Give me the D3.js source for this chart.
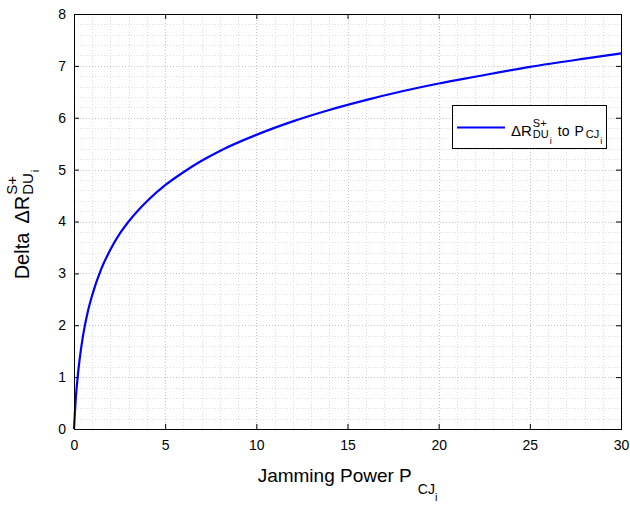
<!DOCTYPE html>
<html>
<head>
<meta charset="utf-8">
<script src="https://cdn.jsdelivr.net/npm/d3@7"></script>
<style>
  body { margin: 0; background: #fff; }
  text { font-family: "Liberation Sans", Arial, Helvetica, sans-serif; fill: #000; }
</style>
</head>
<body>
<svg id="chart" width="630" height="505"></svg>
<script>
// values
var powerVals = [0, 0.05, 0.1, 0.2, 0.3, 0.5, 0.75, 1, 1.5, 2, 2.5, 3, 4, 5, 6, 7, 8, 10, 12, 14, 16, 18, 20, 22, 25, 28, 30];
var deltaVals = [0, 0.32, 0.6, 1.0, 1.32, 1.81, 2.25, 2.58, 3.09, 3.46, 3.76, 4.0, 4.39, 4.70, 4.95, 5.17, 5.36, 5.67, 5.93, 6.15, 6.34, 6.51, 6.66, 6.79, 6.98, 7.14, 7.24];
var xTicks = [0, 5, 10, 15, 20, 25, 30];
var yTicks = [0, 1, 2, 3, 4, 5, 6, 7, 8];

var svg = d3.select("#chart");
var pLeft = 74, pRight = 621, pTop = 14, pBottom = 429;

var x = d3.scaleLinear().domain([0, 30]).range([pLeft, pRight]);
var y = d3.scaleLinear().domain([0, 8]).range([pBottom, pTop]);

//grid: minor first, then major
var grid = svg.append("g");
var xMinor = d3.range(1, 30).filter(function(d) { return d % 5 !== 0; });
var yMinor = d3.range(1, 40).map(function(d) { return d * 0.2; }).filter(function(d) { return Math.abs(d - Math.round(d)) > 0.01; });

function vLines(vals, color) {
  grid.selectAll(null).data(vals).enter().append("line")
    .attr("x1", function(d) { return Math.round(x(d)) + 0.5; })
    .attr("x2", function(d) { return Math.round(x(d)) + 0.5; })
    .attr("y1", pTop).attr("y2", pBottom)
    .attr("stroke", color).attr("stroke-dasharray", "1,2");
}
function hLines(vals, color) {
  grid.selectAll(null).data(vals).enter().append("line")
    .attr("y1", function(d) { return Math.round(y(d)) + 0.5; })
    .attr("y2", function(d) { return Math.round(y(d)) + 0.5; })
    .attr("x1", pLeft).attr("x2", pRight)
    .attr("stroke", color).attr("stroke-dasharray", "1,2");
}
vLines(xMinor, "#dedede");
hLines(yMinor, "#dedede");
vLines(xTicks.slice(1, -1), "#c4c4c4");
hLines(yTicks.slice(1, -1), "#c4c4c4");

//axes with inward ticks on all four sides
var tl = 5;
var axB = svg.append("g").attr("transform", "translate(0," + pBottom + ")")
  .call(d3.axisBottom(x).tickValues(xTicks).tickSizeInner(-tl).tickSizeOuter(0).tickPadding(11));
var axT = svg.append("g").attr("transform", "translate(0," + pTop + ")")
  .call(d3.axisTop(x).tickValues(xTicks).tickSizeInner(-tl).tickSizeOuter(0).tickFormat(""));
var axL = svg.append("g").attr("transform", "translate(" + pLeft + ",0)")
  .call(d3.axisLeft(y).tickValues(yTicks).tickSizeInner(-tl).tickSizeOuter(0).tickPadding(8));
var axR = svg.append("g").attr("transform", "translate(" + pRight + ",0)")
  .call(d3.axisRight(y).tickValues(yTicks).tickSizeInner(-tl).tickSizeOuter(0).tickFormat(""));
[axB, axT, axL, axR].forEach(function(a) {
  a.select(".domain").remove();
  a.selectAll("line").attr("stroke", "#000");
  a.selectAll("text").attr("font-size", 14).attr("font-family", null);
});

//the curve
var pts = powerVals.map(function(p, i) { return [p, deltaVals[i]]; });
var line = d3.line().x(function(d) { return x(d[0]); }).y(function(d) { return y(d[1]); }).curve(d3.curveMonotoneX);
svg.append("path").datum(pts).attr("d", line)
  .attr("fill", "none").attr("stroke", "#0000ff").attr("stroke-width", 2.2);

svg.append("rect").attr("x", pLeft + 0.5).attr("y", pTop + 0.5)
  .attr("width", pRight - pLeft).attr("height", pBottom - pTop)
  .attr("fill", "none").attr("stroke", "#000");

//text with sub/superscripts, built from pieces
function rich(g, parts) {
  var cx = 0, prevStart = 0;
  parts.forEach(function(p) {
    var start = p.stack ? prevStart : cx + (p.dx || 0);
    var t = g.append("text").attr("x", start).attr("y", p.dy || 0)
      .attr("font-size", p.s).style("white-space", "pre").text(p.t);
    var w = t.node().getComputedTextLength();
    prevStart = start;
    cx = Math.max(cx, start + w);
  });
  return cx;
}

//x label
var xl = svg.append("g");
var xw = rich(xl, [
  {t: "Jamming Power P", s: 19},
  {t: "CJ", s: 14, dy: 12, dx: 6},
  {t: "i", s: 11, dy: 19}
]);
xl.attr("transform", "translate(" + ((pLeft + pRight) / 2 - xw / 2) + ",482)");

//y label
var yl = svg.append("g");
var yw = rich(yl, [
  {t: "Delta", s: 20},
  {t: "\u0394R", s: 20, dx: 9},
  {t: "S+", s: 15, dy: -12, dx: 1},
  {t: "DU", s: 15, stack: true, dy: 4},
  {t: "i", s: 11, dy: 10, dx: 1}
]);
yl.attr("transform", "translate(29," + ((pTop + pBottom) / 2 + yw / 2 + 3) + ") rotate(-90)");

//legend
var lg = svg.append("g");
lg.append("rect").attr("x", 452.5).attr("y", 105.5).attr("width", 154).attr("height", 43)
  .attr("fill", "#fff").attr("stroke", "#000");
lg.append("line").attr("x1", 457).attr("x2", 505).attr("y1", 127.5).attr("y2", 127.5)
  .attr("stroke", "#0000ff").attr("stroke-width", 2.2);
var lt = lg.append("g").attr("transform", "translate(511,136)");
rich(lt, [
  {t: "\u0394R", s: 15},
  {t: "S+", s: 11, dy: -9, dx: 1},
  {t: "DU", s: 11, stack: true, dy: 2},
  {t: "i", s: 9, dy: 8, dx: 1},
  {t: "to", s: 14, dx: 6},
  {t: "P", s: 14, dx: 5},
  {t: "CJ", s: 11, dy: 2, dx: 2},
  {t: "i", s: 9, dy: 8, dx: 1}
]);
</script>
</body>
</html>
